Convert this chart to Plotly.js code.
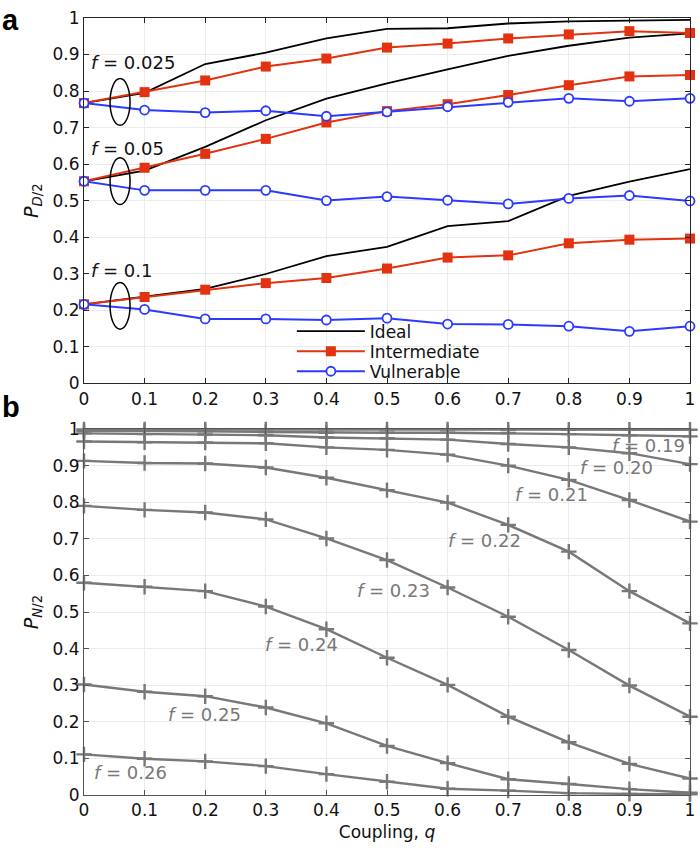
<!DOCTYPE html>
<html>
<head>
<meta charset="utf-8">
<script src="https://cdn.plot.ly/plotly-3.0.1.min.js"></script>
<style>html,body{margin:0;padding:0;background:#fff;}#chart{width:700px;height:848px;}</style>
</head>
<body>
<div id="chart"></div>
<script>
// ---- data (top panel a) ----
const q = [0, 0.1, 0.2, 0.3, 0.4, 0.5, 0.6, 0.7, 0.8, 0.9, 1];

const ideal_f025 = [0.767, 0.795, 0.874, 0.905, 0.944, 0.970, 0.972, 0.985, 0.991, 0.994, 0.995];
const inter_f025 = [0.767, 0.797, 0.829, 0.867, 0.889, 0.919, 0.930, 0.944, 0.955, 0.964, 0.959];
const vuln_f025  = [0.767, 0.748, 0.741, 0.746, 0.731, 0.743, 0.757, 0.769, 0.780, 0.772, 0.780];

const ideal_f05 = [0.553, 0.582, 0.647, 0.720, 0.779, 0.821, 0.859, 0.896, 0.924, 0.946, 0.958];
const inter_f05 = [0.553, 0.590, 0.628, 0.669, 0.714, 0.745, 0.764, 0.789, 0.816, 0.840, 0.844];
const vuln_f05  = [0.553, 0.528, 0.528, 0.528, 0.500, 0.511, 0.501, 0.491, 0.506, 0.514, 0.499];

const ideal_f1 = [0.216, 0.236, 0.258, 0.299, 0.348, 0.373, 0.430, 0.444, 0.513, 0.552, 0.586];
const inter_f1 = [0.216, 0.236, 0.256, 0.274, 0.288, 0.314, 0.344, 0.350, 0.383, 0.393, 0.396];
const vuln_f1  = [0.216, 0.202, 0.176, 0.176, 0.173, 0.178, 0.162, 0.161, 0.156, 0.142, 0.156];

const groupLabelsA = ["<i>f</i> = 0.025", "<i>f</i> = 0.05", "<i>f</i> = 0.1"];
const seriesNames = ["Ideal", "Intermediate", "Vulnerable"];

// ---- data (bottom panel b) ----
const pn_f018 = [0.999, 0.999, 0.999, 0.999, 0.999, 0.999, 0.999, 0.998, 0.998, 0.998, 0.998];
const pn_f019 = [0.995, 0.995, 0.994, 0.992, 0.990, 0.990, 0.990, 0.989, 0.986, 0.983, 0.980];
const pn_f020 = [0.988, 0.986, 0.985, 0.983, 0.977, 0.975, 0.971, 0.959, 0.950, 0.934, 0.904];
const pn_f021 = [0.966, 0.964, 0.963, 0.961, 0.950, 0.943, 0.930, 0.900, 0.861, 0.806, 0.747];
const pn_f022 = [0.913, 0.907, 0.906, 0.895, 0.867, 0.833, 0.799, 0.738, 0.665, 0.557, 0.469];
const pn_f023 = [0.790, 0.779, 0.772, 0.753, 0.701, 0.642, 0.567, 0.487, 0.396, 0.299, 0.214];
const pn_f024 = [0.580, 0.569, 0.557, 0.515, 0.453, 0.375, 0.301, 0.214, 0.144, 0.085, 0.045];
const pn_f025 = [0.302, 0.282, 0.270, 0.239, 0.196, 0.134, 0.087, 0.043, 0.030, 0.016, 0.006];
const pn_f026 = [0.111, 0.099, 0.092, 0.079, 0.057, 0.036, 0.017, 0.012, 0.005, 0.003, 0.002];

const labelsB = ["<i>f</i> = 0.19", "<i>f</i> = 0.20", "<i>f</i> = 0.21", "<i>f</i> = 0.22",
                 "<i>f</i> = 0.23", "<i>f</i> = 0.24", "<i>f</i> = 0.25", "<i>f</i> = 0.26"];
const labelsBx = [0.931, 0.878, 0.772, 0.661, 0.510, 0.359, 0.199, 0.077];
const labelsBy = [0.954, 0.895, 0.820, 0.695, 0.560, 0.410, 0.219, 0.062];

// ---- styles ----
const FONT = "DejaVu Sans, Arial, sans-serif";
const BLACK = "#000000", RED = "#e2320f", BLUE = "#2a3bff", GRAY = "#787878";

const traces = [];
function idealTrace(y, show) {
  return {x: q, y: y, type: "scatter", mode: "lines", name: seriesNames[0], legend: "legend",
          showlegend: show, line: {color: BLACK, width: 1.8}, cliponaxis: false, xaxis: "x", yaxis: "y"};
}
function interTrace(y, show) {
  return {x: q, y: y, type: "scatter", mode: "lines+markers", name: seriesNames[1], legend: "legend2",
          showlegend: show, line: {color: RED, width: 2},
          marker: {symbol: "square", size: 10, color: RED}, cliponaxis: false, xaxis: "x", yaxis: "y"};
}
function vulnTrace(y, show) {
  return {x: q, y: y, type: "scatter", mode: "lines+markers", name: seriesNames[2], legend: "legend3",
          showlegend: show, line: {color: BLUE, width: 2},
          marker: {symbol: "circle", size: 9, color: "#ffffff", line: {color: BLUE, width: 1.8}},
          cliponaxis: false, xaxis: "x", yaxis: "y"};
}
traces.push(idealTrace(ideal_f025, true), idealTrace(ideal_f05, false), idealTrace(ideal_f1, false));
traces.push(interTrace(inter_f025, true), interTrace(inter_f05, false), interTrace(inter_f1, false));
traces.push(vulnTrace(vuln_f025, true), vulnTrace(vuln_f05, false), vulnTrace(vuln_f1, false));

[pn_f018, pn_f019, pn_f020, pn_f021, pn_f022, pn_f023, pn_f024, pn_f025, pn_f026].forEach(function (y) {
  traces.push({x: q, y: y, type: "scatter", mode: "lines+markers", showlegend: false,
               line: {color: GRAY, width: 2.4},
               marker: {symbol: "cross-thin", size: 11, color: GRAY, line: {color: GRAY, width: 2.4}},
               cliponaxis: false, xaxis: "x2", yaxis: "y2"});
});

const annotations = [];
const labelAy = [0.877, 0.644, 0.308];
groupLabelsA.forEach(function (t, i) {
  annotations.push({text: t, x: 0.008, y: labelAy[i], xref: "x", yref: "y", xanchor: "left", yanchor: "middle",
                    showarrow: false, font: {family: FONT, size: 18, color: "#111"}});
});
labelsB.forEach(function (t, i) {
  annotations.push({text: t, x: labelsBx[i], y: labelsBy[i], xref: "x2", yref: "y2", xanchor: "center", yanchor: "middle",
                    showarrow: false, font: {family: FONT, size: 18, color: GRAY}});
});
annotations.push({text: "<b>a</b>", x: -0.139, y: 1.02, xref: "paper", yref: "paper", xanchor: "left", yanchor: "top",
                  showarrow: false, font: {family: "Liberation Sans, Arial, sans-serif", size: 29, color: "#000"}});
annotations.push({text: "<b>b</b>", x: -0.139, y: 0.522, xref: "paper", yref: "paper", xanchor: "left", yanchor: "top",
                  showarrow: false, font: {family: "Liberation Sans, Arial, sans-serif", size: 29, color: "#000"}});

// ellipses grouping the three f-levels in panel a
const ellipseCenters = [0.770, 0.553, 0.212];
const shapes = ellipseCenters.map(function (c) {
  return {type: "circle", xref: "x", yref: "y", x0: 0.043, x1: 0.076, y0: c - 0.064, y1: c + 0.064,
          line: {color: "#000", width: 1.5}, fillcolor: "rgba(0,0,0,0)"};
});

const axisCommon = {range: [0, 1], dtick: 0.1, tick0: 0, ticks: "inside", ticklen: 5, tickwidth: 1,
                    showline: true, mirror: "ticks", showgrid: true, gridcolor: "#ebebeb", gridwidth: 1,
                    zeroline: false, tickfont: {family: FONT, size: 17, color: "#111"}, fixedrange: true};

function legendAt(yc) {
  return {x: 0.343, y: yc, xanchor: "left", yanchor: "middle", bgcolor: "rgba(255,255,255,0)",
          borderwidth: 0, font: {family: FONT, size: 17, color: "#111"}, itemwidth: 68};
}

const layout = {
  width: 700, height: 848,
  margin: {l: 84, r: 10, t: 18, b: 53},
  paper_bgcolor: "#ffffff", plot_bgcolor: "#ffffff",
  font: {family: FONT, size: 17, color: "#111"},
  xaxis: Object.assign({}, axisCommon, {domain: [0, 1], anchor: "y", linecolor: "#262626", tickcolor: "#262626"}),
  yaxis: Object.assign({}, axisCommon, {domain: [0.530, 1], anchor: "x", linecolor: "#262626", tickcolor: "#262626",
         title: {text: "<i>P</i><sub><i>D</i>/2</sub>", font: {family: FONT, size: 19, color: "#111"}, standoff: 8}}),
  xaxis2: Object.assign({}, axisCommon, {domain: [0, 1], anchor: "y2", linecolor: "#555", tickcolor: "#555",
         title: {text: "Coupling, <i>q</i>", font: {family: FONT, size: 17, color: "#111"}, standoff: 6}}),
  yaxis2: Object.assign({}, axisCommon, {domain: [0, 0.471], anchor: "x2", linecolor: "#555", tickcolor: "#555",
         title: {text: "<i>P</i><sub><i>N</i>/2</sub>", font: {family: FONT, size: 19, color: "#111"}, standoff: 8}}),
  legend: legendAt(0.5963),
  legend2: legendAt(0.5705),
  legend3: legendAt(0.5448),
  annotations: annotations,
  shapes: shapes
};

Plotly.newPlot("chart", traces, layout, {displayModeBar: false, staticPlot: true});
</script>
</body>
</html>
